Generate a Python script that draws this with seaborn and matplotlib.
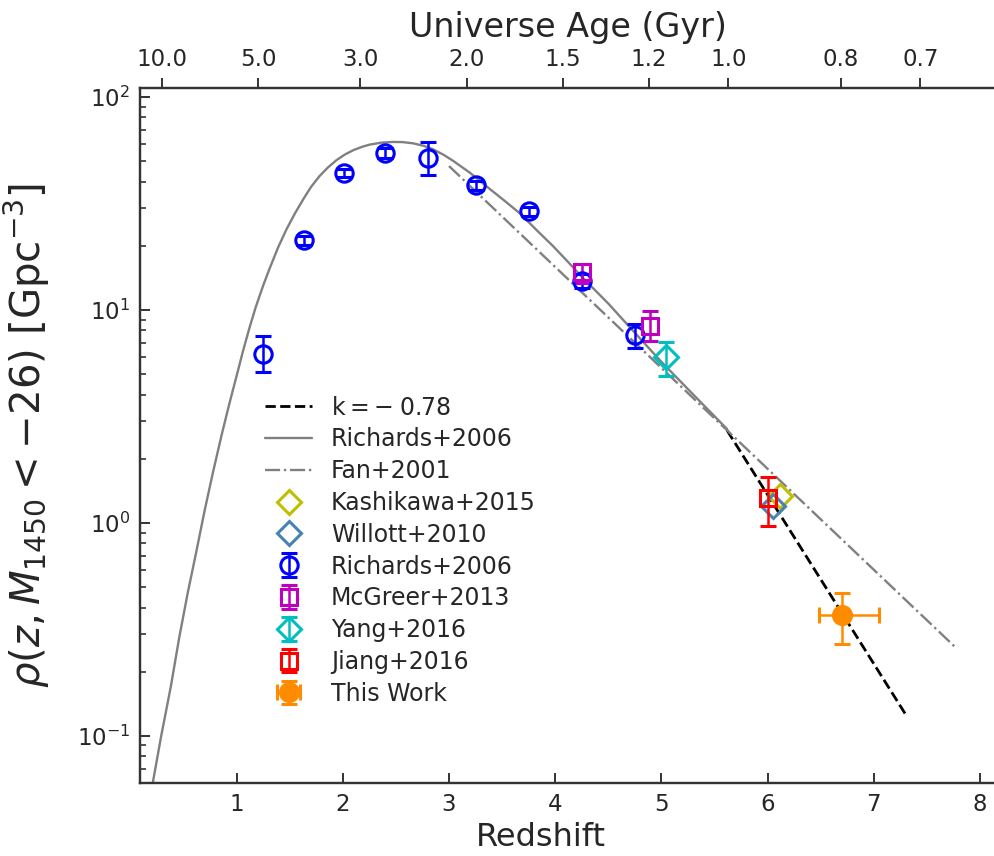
import numpy as np
import matplotlib
matplotlib.use("Agg")
import matplotlib.pyplot as plt
import seaborn as sns
import pandas as pd

# ---------------- data ----------------
# model curves
k_z = [5.62, 7.30]
k_rho = [2.71, 0.126]

fan_z = [3.0, 7.77]
fan_rho = [47.3, 0.26]

rich_curve_z = [0.21, 0.29, 0.38, 0.46, 0.54, 0.62, 0.70, 0.78, 0.86, 0.93,
                1.00, 1.06, 1.12, 1.18, 1.25, 1.31, 1.39, 1.47, 1.55, 1.63,
                1.70, 1.78, 1.86, 1.94, 2.02, 2.10, 2.18, 2.25, 2.36, 2.47,
                2.56, 2.66, 2.76, 2.85, 2.95, 3.04, 3.20, 3.35, 3.51, 3.67,
                3.82, 3.98, 4.12, 4.25, 4.50, 4.72, 5.00, 5.30, 5.62]
rich_curve_rho = [0.06, 0.10, 0.17, 0.29, 0.47, 0.73, 1.15, 1.75, 2.6, 3.6,
                  4.9, 6.4, 8.2, 10.3, 13.0, 15.6, 19.6, 23.9, 28.4, 33.2,
                  37.7, 42.4, 46.6, 50.4, 53.6, 56.2, 58.2, 59.6, 60.9, 61.4,
                  61.3, 60.5, 58.9, 56.7, 53.4, 50.0, 43.9, 38.1, 32.9, 28.3,
                  23.8, 19.9, 16.8, 14.3, 10.7, 8.1, 5.7, 4.0, 2.75]

# measurements
kash_z = [6.12]
kash_rho = [1.33]

will_z = [6.05]
will_rho = [1.20]

rich_z = [1.25, 1.63, 2.01, 2.40, 2.80, 3.25, 3.75, 4.25, 4.75]
rich_rho = [6.2, 21.2, 44.0, 54.5, 51.8, 38.4, 29.0, 13.7, 7.6]
rich_err_lo = [1.1, 1.0, 2.0, 3.0, 9.0, 2.0, 1.5, 1.0, 1.0]
rich_err_hi = [1.3, 1.0, 2.0, 3.0, 9.6, 2.0, 1.5, 1.0, 1.0]

mcg_z = [4.25, 4.89]
mcg_rho = [15.0, 8.4]
mcg_err_lo = [1.6, 1.3]
mcg_err_hi = [1.4, 1.5]

yang_z = [5.04]
yang_rho = [6.0]
yang_err_lo = [1.1]
yang_err_hi = [1.05]

jiang_z = [6.00]
jiang_rho = [1.30]
jiang_err_lo = [0.33]
jiang_err_hi = [0.34]

tw_z = [6.70]
tw_rho = [0.37]
tw_xerr_lo = [0.22]
tw_xerr_hi = [0.35]
tw_err_lo = [0.10]
tw_err_hi = [0.10]

# top axis: universe age tick labels (Gyr) and the redshifts they sit at
age_labels = ["10.0", "5.0", "3.0", "2.0", "1.5", "1.2", "1.0", "0.8", "0.7"]
age_z = [0.295, 1.205, 2.162, 3.166, 4.071, 4.88, 5.63, 6.69, 7.44]

# ---------------- style ----------------
sns.set_theme(style="ticks")
plt.rcParams["font.family"] = ["DejaVu Sans"]
plt.rcParams["mathtext.fontset"] = "dejavusans"
plt.rcParams["axes.edgecolor"] = "0.2"
plt.rcParams["axes.linewidth"] = 1.6
plt.rcParams["xtick.color"] = "0.2"
plt.rcParams["ytick.color"] = "0.2"
plt.rcParams["xtick.labelcolor"] = "0.15"
plt.rcParams["ytick.labelcolor"] = "0.15"

C_MAG = "#bf00bf"
C_CYAN = "#00bfbf"
C_OLIVE = "#bfbf00"

fig = plt.figure(figsize=(9.94, 8.56), dpi=100)
ax = fig.add_axes([0.14085, 0.0853, 0.861, 0.8119])

# curves
sns.lineplot(x=k_z, y=k_rho, ax=ax, color="black", linestyle="--", lw=2.0,
             label=r"$\rm k = -\;0.78$", sort=False)
sns.lineplot(x=rich_curve_z, y=rich_curve_rho, ax=ax, color="grey", lw=1.7,
             label="Richards+2006", sort=False)
sns.lineplot(x=fan_z, y=fan_rho, ax=ax, color="grey", linestyle="-.", lw=1.7,
             label="Fan+2001", sort=False)

mew = 2.2
ax.plot(kash_z, kash_rho, "D", mfc="none", mec=C_OLIVE, ms=12.5, mew=mew,
        label="Kashikawa+2015")
ax.plot(will_z, will_rho, "D", mfc="none", mec="steelblue", ms=12.5, mew=mew,
        label="Willott+2010")

eb = dict(capsize=5.5, elinewidth=1.8, capthick=1.8, ls="none", mew=mew)
ax.errorbar(rich_z, rich_rho, yerr=[rich_err_lo, rich_err_hi], fmt="o",
            color="blue", mfc="none", label="Richards+2006", ms=12.5, **eb)
ax.errorbar(mcg_z, mcg_rho, yerr=[mcg_err_lo, mcg_err_hi], fmt="s",
            color=C_MAG, mfc="none", label="McGreer+2013", ms=12, **eb)
ax.errorbar(yang_z, yang_rho, yerr=[yang_err_lo, yang_err_hi], fmt="D",
            color=C_CYAN, mfc="none", label="Yang+2016", ms=12.5, **eb)
ax.errorbar(jiang_z, jiang_rho, yerr=[jiang_err_lo, jiang_err_hi], fmt="s",
            color="red", mfc="none", label="Jiang+2016", ms=12, **eb)
ax.errorbar(tw_z, tw_rho, xerr=[tw_xerr_lo, tw_xerr_hi],
            yerr=[tw_err_lo, tw_err_hi], fmt="o", color="darkorange",
            label="This Work", ms=13, **eb)

ax.set_yscale("log")
ax.set_xlim(0.09, 8.15)
ax.set_ylim(0.06, 110)
ax.set_xticks([1, 2, 3, 4, 5, 6, 7, 8])

ax.tick_params(axis="both", which="both", direction="in", labelsize=16.5, pad=7)
ax.tick_params(axis="both", which="major", length=7, width=1.4)
ax.tick_params(axis="both", which="minor", length=4, width=1.2)
ax.spines["right"].set_visible(False)

ax.set_xlabel("Redshift", fontsize=23, color="0.15")
ax.xaxis.set_label_coords(0.468, -0.056)
ax.set_ylabel(r"$\rho(z, M_{1450} < -26)$ [Gpc$^{-3}$]", fontsize=29,
              color="0.15")
ax.yaxis.set_label_coords(-0.103, 0.5)

ax2 = ax.twiny()
ax2.set_xlim(ax.get_xlim())
ax2.set_xticks(age_z)
ax2.set_xticklabels(age_labels)
ax2.tick_params(axis="x", direction="out", length=7, width=1.4, labelsize=16.5,
                pad=5)
ax2.set_xlabel("Universe Age (Gyr)", fontsize=24, labelpad=8, color="0.15")
ax2.spines["right"].set_visible(False)

leg = ax.legend(loc="upper left", bbox_to_anchor=(0.135, 0.571),
                borderaxespad=0, frameon=False, fontsize=17, labelspacing=0.33,
                handlelength=2.0, handletextpad=0.8)
for t in leg.get_texts():
    t.set_color("0.15")

fig.savefig("out.png", dpi=100)
